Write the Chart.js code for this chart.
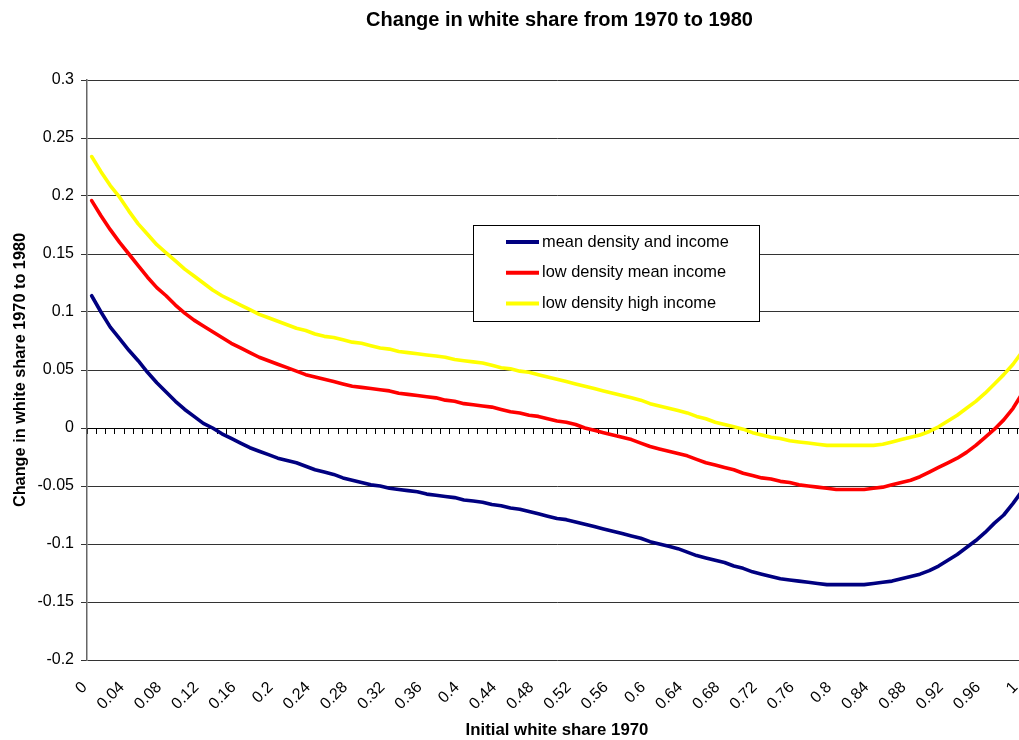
<!DOCTYPE html>
<html>
<head>
<meta charset="utf-8">
<script src="https://cdn.jsdelivr.net/npm/chart.js@4/dist/chart.umd.min.js"></script>
<style>
  html, body { margin: 0; padding: 0; background: #fff; overflow: hidden; }
  #wrap { position: absolute; left: 0; top: 0; width: 1119px; height: 740px; }
</style>
</head>
<body>
<div id="wrap"><canvas id="chart" width="1119" height="740"></canvas></div>
<script>
// Initial white share in 1970 (category axis, steps of 0.01)
const categories = [
  "0","0.01","0.02","0.03","0.04","0.05","0.06","0.07","0.08","0.09",
  "0.1","0.11","0.12","0.13","0.14","0.15","0.16","0.17","0.18","0.19",
  "0.2","0.21","0.22","0.23","0.24","0.25","0.26","0.27","0.28","0.29",
  "0.3","0.31","0.32","0.33","0.34","0.35","0.36","0.37","0.38","0.39",
  "0.4","0.41","0.42","0.43","0.44","0.45","0.46","0.47","0.48","0.49",
  "0.5","0.51","0.52","0.53","0.54","0.55","0.56","0.57","0.58","0.59",
  "0.6","0.61","0.62","0.63","0.64","0.65","0.66","0.67","0.68","0.69",
  "0.7","0.71","0.72","0.73","0.74","0.75","0.76","0.77","0.78","0.79",
  "0.8","0.81","0.82","0.83","0.84","0.85","0.86","0.87","0.88","0.89",
  "0.9","0.91","0.92","0.93","0.94","0.95","0.96","0.97","0.98","0.99",
  "1"
];

// Category labels printed under the axis
const xTickLabels = ["0","0.04","0.08","0.12","0.16","0.2","0.24","0.28","0.32","0.36",
  "0.4","0.44","0.48","0.52","0.56","0.6","0.64","0.68","0.72","0.76","0.8","0.84",
  "0.88","0.92","0.96","1"];

// Change in white share 1970 to 1980
const meanDensityAndIncome = [
  0.114,0.100,0.087,0.077,0.067,0.058,0.048,0.039,0.031,0.023,
  0.016,0.010,0.004,0.000,-0.005,-0.009,-0.013,-0.017,-0.020,-0.023,
  -0.026,-0.028,-0.030,-0.033,-0.036,-0.038,-0.040,-0.043,-0.045,-0.047,
  -0.049,-0.050,-0.052,-0.053,-0.054,-0.055,-0.057,-0.058,-0.059,-0.060,
  -0.062,-0.063,-0.064,-0.066,-0.067,-0.069,-0.070,-0.072,-0.074,-0.076,
  -0.078,-0.079,-0.081,-0.083,-0.085,-0.087,-0.089,-0.091,-0.093,-0.095,
  -0.098,-0.100,-0.102,-0.104,-0.107,-0.110,-0.112,-0.114,-0.116,-0.119,
  -0.121,-0.124,-0.126,-0.128,-0.130,-0.131,-0.132,-0.133,-0.134,-0.135,
  -0.135,-0.135,-0.135,-0.135,-0.134,-0.133,-0.132,-0.130,-0.128,-0.126,
  -0.123,-0.119,-0.114,-0.109,-0.103,-0.097,-0.090,-0.082,-0.075,-0.065,
  -0.054
];

const lowDensityMeanIncome = [
  0.196,0.183,0.171,0.160,0.150,0.140,0.130,0.121,0.114,0.106,
  0.099,0.093,0.088,0.083,0.078,0.073,0.069,0.065,0.061,0.058,
  0.055,0.052,0.049,0.046,0.044,0.042,0.040,0.038,0.036,0.035,
  0.034,0.033,0.032,0.030,0.029,0.028,0.027,0.026,0.024,0.023,
  0.021,0.020,0.019,0.018,0.016,0.014,0.013,0.011,0.010,0.008,
  0.006,0.005,0.003,0.000,-0.002,-0.004,-0.006,-0.008,-0.010,-0.013,
  -0.016,-0.018,-0.020,-0.022,-0.024,-0.027,-0.030,-0.032,-0.034,-0.036,
  -0.039,-0.041,-0.043,-0.044,-0.046,-0.047,-0.049,-0.050,-0.051,-0.052,
  -0.053,-0.053,-0.053,-0.053,-0.052,-0.051,-0.049,-0.047,-0.045,-0.042,
  -0.038,-0.034,-0.030,-0.026,-0.021,-0.015,-0.008,-0.001,0.007,0.017,
  0.030
];

const lowDensityHighIncome = [
  0.234,0.221,0.209,0.199,0.187,0.176,0.167,0.158,0.151,0.144,
  0.137,0.131,0.125,0.119,0.114,0.110,0.106,0.102,0.098,0.095,
  0.092,0.089,0.086,0.084,0.081,0.079,0.078,0.076,0.074,0.073,
  0.071,0.069,0.068,0.066,0.065,0.064,0.063,0.062,0.061,0.059,
  0.058,0.057,0.056,0.054,0.052,0.051,0.049,0.048,0.046,0.044,
  0.042,0.040,0.038,0.036,0.034,0.032,0.030,0.028,0.026,0.024,
  0.021,0.019,0.017,0.015,0.013,0.010,0.008,0.005,0.003,0.001,
  -0.001,-0.004,-0.006,-0.008,-0.009,-0.011,-0.012,-0.013,-0.014,-0.015,
  -0.015,-0.015,-0.015,-0.015,-0.015,-0.014,-0.012,-0.010,-0.008,-0.006,
  -0.003,0.001,0.006,0.011,0.017,0.023,0.030,0.038,0.046,0.055,
  0.066
];

const seriesNames = ["mean density and income", "low density mean income", "low density high income"];
const seriesColors = ["#000080", "#FF0000", "#FFFF00"];

const FONT = "'Liberation Sans', Arial, Helvetica, sans-serif";

// Boxed legend drawn inside the plot area
const boxedLegend = {
  id: 'boxedLegend',
  afterDraw(chart) {
    const { ctx, chartArea } = chart;
    const x = chartArea.left + 386, y = chartArea.top + 145, w = 286, h = 96;
    ctx.save();
    ctx.fillStyle = '#fff';
    ctx.fillRect(x, y, w, h);
    ctx.strokeStyle = '#000';
    ctx.lineWidth = 1;
    ctx.strokeRect(Math.round(x) + 0.5, Math.round(y) + 0.5, w, h);
    ctx.font = '16.4px ' + FONT;
    ctx.textBaseline = 'middle';
    ctx.textAlign = 'left';
    chart.data.datasets.forEach((ds, i) => {
      const ry = y + 17 + i * 30.7;
      ctx.strokeStyle = ds.borderColor;
      ctx.lineWidth = 4;
      ctx.beginPath();
      ctx.moveTo(x + 33, ry);
      ctx.lineTo(x + 66, ry);
      ctx.stroke();
      ctx.fillStyle = '#000';
      ctx.fillText(ds.label, x + 69, ry);
    });
    ctx.restore();
  }
};

const seriesValues = [meanDensityAndIncome, lowDensityMeanIncome, lowDensityHighIncome];

new Chart(document.getElementById('chart'), {
  type: 'line',
  data: {
    labels: categories,
    datasets: seriesValues.map((vals, i) => ({
      label: seriesNames[i],
      data: vals,
      borderColor: seriesColors[i],
      backgroundColor: seriesColors[i],
      borderWidth: 3.6,
      pointRadius: 0,
      tension: 0,
      fill: false,
      borderJoinStyle: 'round',
      borderCapStyle: 'round'
    }))
  },
  options: {
    responsive: false,
    animation: false,
    devicePixelRatio: 1,
    layout: { padding: 0 },
    plugins: {
      legend: { display: false },
      tooltip: { enabled: false },
      title: {
        display: true,
        text: 'Change in white share from 1970 to 1980',
        color: '#000',
        font: { family: FONT, size: 20, weight: 'bold' },
        padding: { top: 8, bottom: 48 }
      }
    },
    scales: {
      x: {
        type: 'category',
        offset: true,
        grid: { display: false, drawTicks: false },
        border: { display: false },
        ticks: {
          autoSkip: false,
          minRotation: 45,
          maxRotation: 45,
          padding: 18,
          labelOffset: -7,
          color: '#000',
          font: { family: FONT, size: 16 },
          callback: function (value, index) {
            const lab = categories[index];
            return xTickLabels.includes(lab) ? lab : '';
          }
        },
        title: {
          display: true,
          text: 'Initial white share 1970',
          color: '#000',
          font: { family: FONT, size: 16.8, weight: 'bold' },
          padding: { top: 0, bottom: 0 }
        },
        afterFit: s => { s.height = 80; }
      },
      // category axis crossing at zero, with tick marks between categories
      xZero: {
        type: 'category',
        position: { y: 0 },
        offset: true,
        grid: { display: true, drawOnChartArea: false, drawTicks: true, tickLength: 5, offset: true, color: '#000', lineWidth: 1 },
        border: { display: true, color: '#000', width: 1 },
        ticks: { display: false, autoSkip: false }
      },
      y: {
        min: -0.2,
        max: 0.3,
        grid: { color: '#333', lineWidth: 1, drawTicks: true, tickLength: 6 },
        border: { display: true, color: '#666', width: 1.5 },
        ticks: {
          stepSize: 0.05,
          padding: 7,
          color: '#000',
          font: { family: FONT, size: 16 },
          callback: v => String(Number(v.toFixed(2)))
        },
        title: {
          display: true,
          text: 'Change in white share 1970 to 1980',
          color: '#000',
          font: { family: FONT, size: 16.3, weight: 'bold' },
          padding: { top: 11, bottom: 0 }
        },
        afterFit: s => { s.width = 87; }
      },
      // empty band on the right of the plot
      rightPad: {
        type: 'linear',
        position: 'right',
        display: true,
        grid: { display: false, drawTicks: false },
        border: { display: false },
        ticks: { display: false },
        afterFit: s => { s.width = 92; }
      }
    }
  },
  plugins: [boxedLegend]
});
</script>
</body>
</html>
